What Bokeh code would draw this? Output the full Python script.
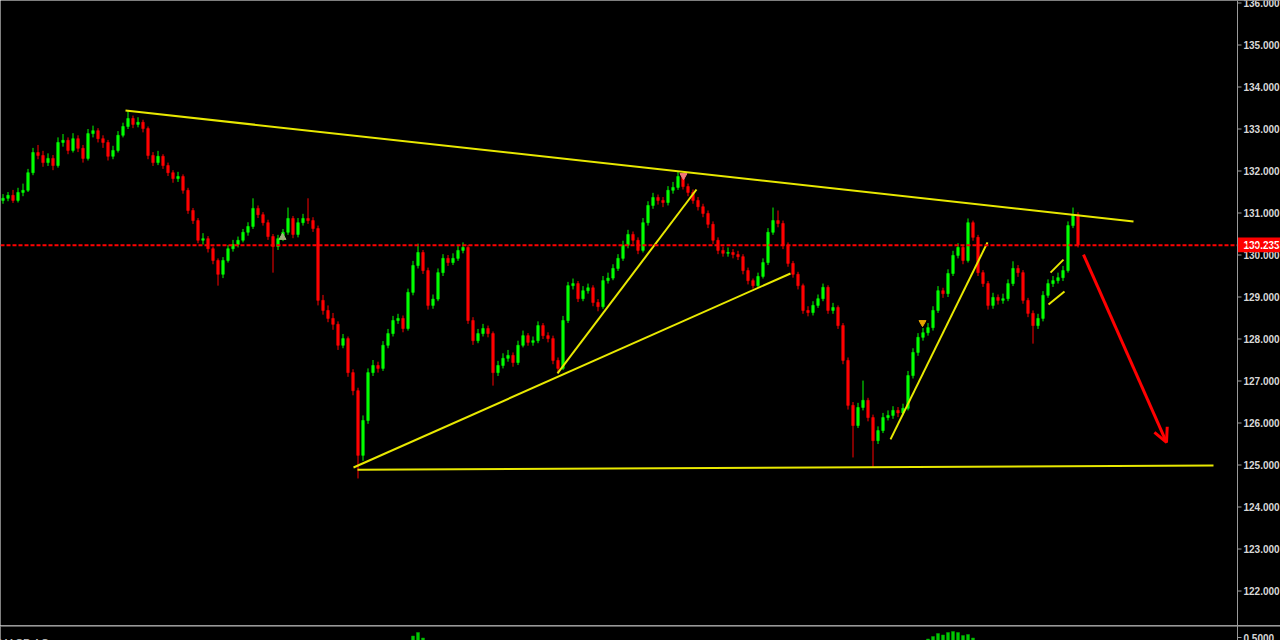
from bokeh.plotting import figure
from bokeh.layouts import column
from bokeh.models import Range1d, Span, Label, Arrow, OpenHead, ColumnDataSource
from bokeh.core.properties import value
from bokeh.embed import file_html
from bokeh.resources import INLINE

# ---- price data (one candle per bar, open = previous close) ----
first_open = 131.30
close = [131.35, 131.42, 131.30, 131.49, 131.54, 131.96, 132.44, 132.37, 132.20, 132.30,
         132.13, 132.68, 132.73, 132.49, 132.77, 132.54, 132.30, 132.89, 132.96, 132.77,
         132.68, 132.35, 132.49, 132.85, 133.06, 133.25, 133.11, 133.16, 133.01, 132.37,
         132.20, 132.35, 132.13, 131.96, 131.82, 131.87, 131.54, 131.06, 130.82, 130.35,
         130.39, 130.15, 129.87, 129.54, 129.87, 130.15, 130.25, 130.35, 130.54, 130.68,
         131.11, 130.96, 130.77, 130.44, 130.20, 130.39, 130.54, 130.87, 130.49, 130.77,
         130.87, 130.82, 130.63, 128.92, 128.68, 128.49, 128.35, 127.85, 128.01, 127.20,
         126.77, 125.23, 126.06, 127.20, 127.37, 127.30, 127.85, 128.13, 128.44, 128.49,
         128.25, 129.11, 129.75, 130.06, 129.63, 128.80, 128.95, 129.58, 129.92, 129.82,
         129.92, 130.11, 130.18, 128.44, 127.96, 128.13, 128.25, 128.13, 127.20, 127.37,
         127.54, 127.61, 127.44, 127.85, 128.08, 127.92, 127.96, 128.32, 128.08, 128.01,
         127.49, 127.30, 128.44, 129.27, 129.32, 128.96, 129.15, 129.22, 128.87, 128.77,
         129.39, 129.45, 129.68, 129.92, 130.23, 130.49, 130.35, 130.11, 130.77, 131.18,
         131.37, 131.30, 131.25, 131.54, 131.61, 131.87, 131.63, 131.49, 131.30, 131.15,
         130.99, 130.73, 130.35, 130.11, 130.04, 130.06, 130.01, 129.96, 129.63, 129.39,
         129.27, 129.49, 129.82, 130.54, 130.82, 130.75, 130.23, 129.80, 129.54, 129.27,
         128.68, 128.63, 128.80, 128.96, 129.23, 128.68, 128.75, 128.32, 127.49, 126.42,
         125.94, 126.37, 126.54, 126.13, 125.58, 125.82, 126.13, 126.18, 126.30, 126.24,
         126.35, 127.13, 127.68, 128.04, 128.15, 128.27, 128.68, 129.15, 129.08, 129.56,
         129.99, 130.18, 129.87, 130.77, 130.42, 129.58, 129.32, 128.80, 128.99, 128.92,
         128.96, 129.32, 129.68, 129.58, 128.92, 128.61, 128.32, 128.49, 129.04, 129.32,
         129.39, 129.46, 129.63, 130.70, 130.96, 130.235]

high = [131.45, 131.50, 131.55, 131.60, 131.70, 132.05, 132.55, 132.62, 132.48, 132.42,
        132.38, 132.80, 132.88, 132.80, 132.90, 132.85, 132.62, 133.00, 133.08, 133.02,
        132.85, 132.74, 132.60, 132.95, 133.15, 133.44, 133.32, 133.28, 133.22, 133.06,
        132.45, 132.48, 132.40, 132.20, 132.02, 131.98, 131.92, 131.60, 131.12, 130.88,
        130.52, 130.45, 130.20, 129.92, 129.95, 130.24, 130.36, 130.44, 130.62, 130.78,
        131.35, 131.18, 131.02, 130.84, 130.50, 130.48, 130.62, 131.13, 130.93, 130.88,
        130.98, 131.35, 130.90, 130.70, 129.05, 128.80, 128.62, 128.42, 128.12, 128.06,
        127.28, 126.84, 126.18, 127.30, 127.50, 127.46, 127.95, 128.24, 128.55, 128.60,
        128.56, 129.20, 129.86, 130.27, 130.12, 129.70, 129.06, 129.68, 130.02, 130.00,
        130.04, 130.22, 130.30, 130.24, 128.52, 128.24, 128.36, 128.32, 128.18, 127.48,
        127.66, 127.74, 127.68, 127.96, 128.20, 128.14, 128.06, 128.42, 128.38, 128.16,
        128.08, 127.56, 128.55, 129.36, 129.44, 129.38, 129.26, 129.32, 129.28, 128.95,
        129.50, 129.58, 129.78, 130.02, 130.34, 130.60, 130.56, 130.42, 130.88, 131.28,
        131.48, 131.44, 131.38, 131.64, 131.74, 131.99, 131.94, 131.70, 131.56, 131.38,
        131.22, 131.06, 130.80, 130.42, 130.20, 130.18, 130.14, 130.10, 130.02, 129.70,
        129.44, 129.58, 129.92, 130.64, 131.13, 131.06, 130.82, 130.30, 129.86, 129.60,
        129.32, 128.78, 128.90, 129.06, 129.32, 129.28, 128.86, 128.80, 128.38, 127.56,
        126.50, 126.48, 127.01, 126.60, 126.20, 125.92, 126.24, 126.30, 126.40, 126.38,
        126.46, 127.24, 127.78, 128.14, 128.26, 128.38, 128.78, 129.26, 129.22, 129.66,
        130.10, 130.28, 130.24, 130.87, 130.82, 130.48, 129.64, 129.38, 129.10, 129.06,
        129.08, 129.42, 129.85, 129.76, 129.64, 128.98, 128.68, 128.60, 129.14, 129.42,
        129.50, 129.58, 129.74, 130.80, 131.13, 131.02]

low = [131.22, 131.28, 131.24, 131.25, 131.40, 131.50, 131.90, 132.28, 132.10, 132.12,
       132.02, 132.08, 132.58, 132.40, 132.44, 132.45, 132.20, 132.25, 132.80, 132.68,
       132.55, 132.25, 132.28, 132.44, 132.80, 133.00, 133.02, 133.04, 132.92, 132.28,
       132.12, 132.14, 132.05, 131.88, 131.72, 131.74, 131.46, 130.98, 130.74, 130.28,
       130.25, 130.06, 129.78, 129.27, 129.45, 129.82, 130.08, 130.18, 130.30, 130.46,
       130.62, 130.88, 130.70, 130.36, 129.58, 130.12, 130.33, 130.48, 130.40, 130.42,
       130.70, 130.74, 130.55, 128.80, 128.58, 128.40, 128.22, 127.74, 127.78, 127.10,
       126.66, 124.68, 125.10, 125.98, 127.12, 127.20, 127.24, 127.78, 128.06, 128.36,
       128.16, 128.20, 129.04, 129.68, 129.55, 128.70, 128.72, 128.90, 129.50, 129.74,
       129.76, 129.86, 130.04, 128.36, 127.86, 127.90, 128.06, 128.04, 126.89, 127.12,
       127.30, 127.46, 127.34, 127.38, 127.80, 127.84, 127.84, 127.90, 128.00, 127.92,
       127.40, 127.20, 127.26, 128.38, 129.18, 128.88, 128.90, 129.08, 128.78, 128.66,
       128.72, 129.32, 129.40, 129.62, 129.86, 130.16, 130.26, 130.02, 130.06, 130.70,
       131.10, 131.20, 131.14, 131.18, 131.46, 131.55, 131.56, 131.40, 131.22, 131.06,
       130.90, 130.64, 130.26, 130.02, 129.96, 129.96, 129.92, 129.88, 129.54, 129.30,
       129.20, 129.22, 129.44, 129.76, 130.48, 130.66, 130.14, 129.72, 129.46, 129.18,
       128.60, 128.54, 128.56, 128.74, 128.90, 128.60, 128.60, 128.24, 127.40, 126.32,
       125.18, 125.88, 126.30, 126.04, 124.94, 125.50, 125.76, 126.06, 126.10, 126.14,
       126.18, 126.30, 127.06, 127.60, 127.96, 128.08, 128.20, 128.62, 128.98, 129.00,
       129.50, 129.92, 129.78, 129.82, 130.34, 129.50, 129.24, 128.70, 128.72, 128.82,
       128.84, 128.90, 129.26, 129.48, 128.84, 128.52, 127.89, 128.24, 128.42, 128.98,
       129.24, 129.32, 129.38, 129.58, 130.64, 130.18]

last_price = 130.235
price_ticks = [122, 123, 124, 125, 126, 127, 128, 129, 130, 131, 132, 133, 134, 135, 136]

# ---- drawn trend lines: (bar index, price) end points ----
resistance_x, resistance_y = [24.5, 226.1], [133.44, 130.80]
support_x, support_y = [70.9, 242.1], [124.89, 124.99]
rising_long_x, rising_long_y = [70.1, 157.5], [124.94, 129.56]
rising_a_x, rising_a_y = [110.9, 138.7], [127.18, 131.56]
rising_b_x, rising_b_y = [177.5, 196.9], [125.61, 130.30]
flag_top_x, flag_top_y = [209.5, 212.1], [129.58, 129.89]
flag_bot_x, flag_bot_y = [209.1, 212.3], [128.82, 129.13]

# projected move
arrow_x, arrow_y = [216.1, 232.7], [130.01, 125.54]

# signal markers
mark_x = [55.9, 136.1, 183.9]
mark_y = [130.42, 131.89, 128.39]
mark_kind = ["triangle", "inverted_triangle", "inverted_triangle"]
mark_color = ["#9fae7c", "#f07a7a", "#e6a400"]

# MACD AC histogram bars reaching into view
macd_idx = [82, 83, 84, 185, 186, 187, 188, 189, 190, 191, 192, 193, 194]
macd_val = [0.53, 0.60, 0.49, 0.47, 0.52, 0.58, 0.55, 0.60, 0.62, 0.60, 0.54, 0.56, 0.49]
macd_tick = 0.5

GREEN = "#00ff00"
RED = "#ff0000"
YELLOW = "#e8e800"
AXIS = "#9a9a9a"
LABEL = "#d8d8d8"
FONT = "Liberation Sans"

# price scale column sits at the right edge of the chart area
X_RANGE = (-0.5, 255.5)      # 5 px per bar over 1280 px
AXIS_X = 246.9               # axis line position (bar units)
TICK_LEN = 0.8
LABEL_X = 248.1

n = len(close)
idx = list(range(n))
opens = [first_open] + close[:-1]
colors = [GREEN if c >= o else RED for o, c in zip(opens, close)]
tops = [max(o, c) for o, c in zip(opens, close)]
bots = [min(o, c) for o, c in zip(opens, close)]

src = ColumnDataSource(dict(i=idx, h=high, l=low, top=tops, bot=bots, color=colors))

p = figure(width=1280, height=625, output_backend="svg", toolbar_location=None,
           x_range=Range1d(*X_RANGE), y_range=Range1d(121.179, 136.0595),
           x_axis_location=None, y_axis_location=None,
           background_fill_color="black", border_fill_color="black", min_border=0)
p.grid.visible = False
p.outline_line_color = None

# current price line
p.add_layout(Span(location=last_price, dimension="width", line_color=RED,
                  line_dash="4 2", line_width=2))

# candles
p.segment(x0="i", y0="l", x1="i", y1="h", line_color="color", line_width=1, source=src)
p.vbar(x="i", width=0.5, top="top", bottom="bot", fill_color="color",
       line_color="color", line_width=0.6, source=src)

# trend lines
for xs, ys in [(resistance_x, resistance_y), (support_x, support_y),
               (rising_long_x, rising_long_y), (rising_a_x, rising_a_y),
               (rising_b_x, rising_b_y), (flag_top_x, flag_top_y),
               (flag_bot_x, flag_bot_y)]:
    p.line(xs, ys, line_color=YELLOW, line_width=2)

# markers
p.scatter(mark_x, mark_y, marker=mark_kind, color=mark_color, size=7)

# projection arrow
p.add_layout(Arrow(end=OpenHead(line_color=RED, line_width=3, size=14),
                   x_start=arrow_x[0], y_start=arrow_y[0], x_end=arrow_x[1], y_end=arrow_y[1],
                   line_color=RED, line_width=3))

# price scale
p.add_layout(Span(location=AXIS_X, dimension="height", line_color=AXIS, line_width=1))
p.segment(x0=[AXIS_X] * len(price_ticks), y0=price_ticks,
          x1=[AXIS_X + TICK_LEN] * len(price_ticks), y1=price_ticks,
          line_color=AXIS, line_width=1)
p.text(x=[LABEL_X] * len(price_ticks), y=price_ticks,
       text=["%.3f" % t for t in price_ticks],
       text_color=LABEL, text_font=value(FONT), text_font_style="bold",
       text_font_size="10px", text_align="left", text_baseline="middle")

# last price tag
p.quad(left=[AXIS_X + 0.02], right=[X_RANGE[1]], top=[last_price + 0.18],
       bottom=[last_price - 0.17], fill_color=RED, line_color=None)
p.text(x=[LABEL_X], y=[last_price], text=["%.3f" % last_price],
       text_color="white", text_font=value(FONT), text_font_style="bold",
       text_font_size="10px", text_align="left", text_baseline="middle")

# ---- MACD AC sub-window (only its top edge is in view) ----
q = figure(width=1280, height=15, output_backend="svg", toolbar_location=None,
           x_range=Range1d(*X_RANGE), y_range=Range1d(0.44, 0.74),
           x_axis_location=None, y_axis_location=None,
           background_fill_color="black", border_fill_color="black", min_border=0)
q.grid.visible = False
q.outline_line_color = None
q.vbar(x=macd_idx, width=0.6, top=macd_val, bottom=0.0, fill_color="#00c800",
       line_color="#00a000", line_width=0.5)
q.add_layout(Span(location=0.735, dimension="width", line_color="#b4b4b4", line_width=1.5))
q.add_layout(Span(location=AXIS_X, dimension="height", line_color=AXIS, line_width=1))
q.segment(x0=[AXIS_X], y0=[macd_tick], x1=[AXIS_X + TICK_LEN], y1=[macd_tick],
          line_color=AXIS, line_width=1)
q.text(x=[LABEL_X], y=[macd_tick], text=["%.4f" % macd_tick],
       text_color=LABEL, text_font=value(FONT), text_font_style="bold",
       text_font_size="10px", text_align="left", text_baseline="middle")
q.add_layout(Label(x=-2, y=0.52, x_units="screen", y_units="data", text="MACD AC",
                   text_color="#c8c8c8", text_font=FONT, text_font_size="11px",
                   text_align="left", text_baseline="top"))

layout = column(p, q, spacing=0)
open("out.html", "w").write(file_html(layout, INLINE))
